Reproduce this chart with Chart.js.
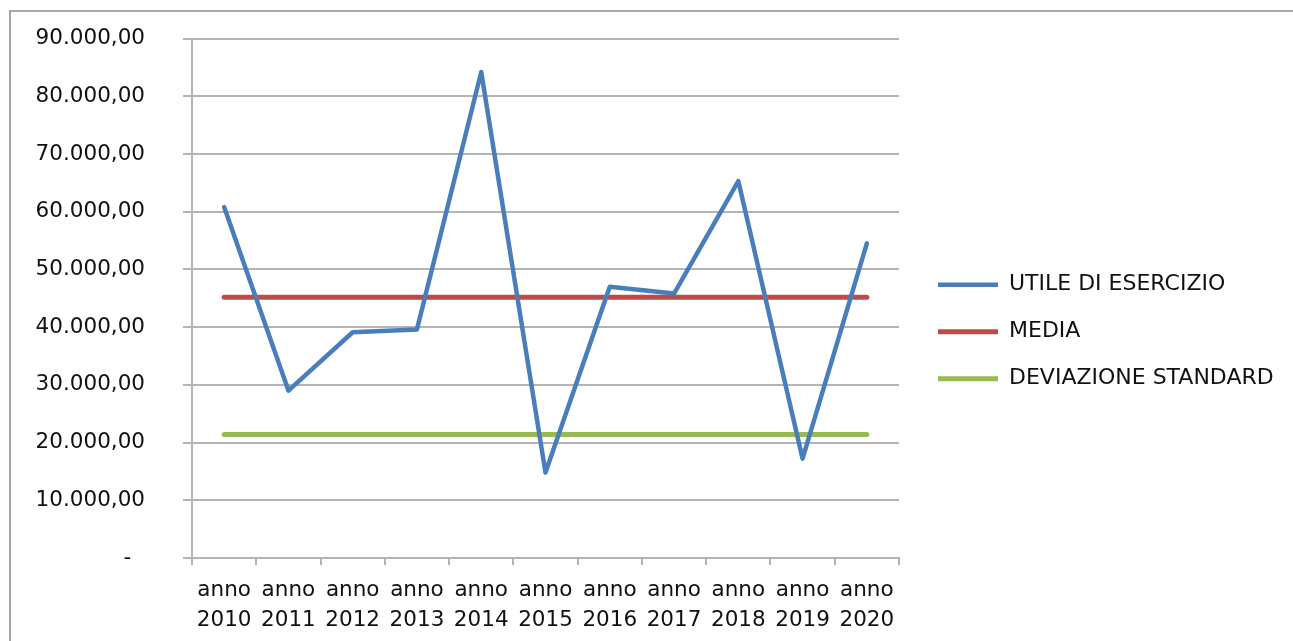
<!DOCTYPE html>
<html lang="it">
<head>
    <meta charset="UTF-8">
    <title>Utile di esercizio 2010-2020</title>
    <script src="https://cdn.jsdelivr.net/npm/chart.js"></script>
    <style>
        html, body {
            margin: 0;
            padding: 0;
            background: #fff;
            overflow: hidden;
        }
        #frame {
            position: absolute;
            left: 9px;
            top: 10px;
            width: 1400px;
            height: 800px;
            border: 2px solid #a8a8a8;
        }
        #chartContainer {
            position: absolute;
            left: 0;
            top: 0;
            width: 1293px;
            height: 641px;
        }
    </style>
</head>
<body>
    <div id="frame"></div>
    <div id="chartContainer">
        <canvas id="utileChart"></canvas>
    </div>

    <script>
        // Data
        const anni = [
            ['anno', '2010'], ['anno', '2011'], ['anno', '2012'], ['anno', '2013'],
            ['anno', '2014'], ['anno', '2015'], ['anno', '2016'], ['anno', '2017'],
            ['anno', '2018'], ['anno', '2019'], ['anno', '2020']
        ];
        const utile = [60800, 29000, 39100, 39600, 84200, 14800, 47000, 45800, 65300, 17200, 54500];
        const media = [45150, 45150, 45150, 45150, 45150, 45150, 45150, 45150, 45150, 45150, 45150];
        const deviazione = [21400, 21400, 21400, 21400, 21400, 21400, 21400, 21400, 21400, 21400, 21400];
        const yTicks = [0, 10000, 20000, 30000, 40000, 50000, 60000, 70000, 80000, 90000];

        // Italian number format: 90.000,00 and "-" for zero
        function formatIt(v) {
            if (v === 0) return '-  ';
            const intPart = Math.round(v).toString().replace(/\B(?=(\d{3})+(?!\d))/g, '.');
            return intPart + ',00';
        }

        const axisFont = { family: 'DejaVu Sans', size: 21.5 };
        const gridColor = '#b4b4b4';
        const textColor = '#111';

        // legend takes the whole right side, then is nudged to where Excel put it
        const legendShift = {
            id: 'legendShift',
            afterInit(chart) {
                const lg = chart.legend;
                const origFit = lg.fit.bind(lg);
                lg.fit = function () {
                    origFit();
                    this.width = 394;
                };
            },
            afterLayout(chart) {
                const lg = chart.legend;
                lg.left += 14;
                lg.right += 14;
                lg.top -= 6.5;
                lg.bottom -= 6.5;
            }
        };

        const ctx = document.getElementById('utileChart').getContext('2d');
        const utileChart = new Chart(ctx, {
            type: 'line',
            data: {
                labels: anni,
                datasets: [
                    {
                        label: 'UTILE DI ESERCIZIO',
                        data: utile,
                        borderColor: '#4a7ebb',
                        backgroundColor: '#4a7ebb',
                        borderWidth: 4.5,
                        pointRadius: 0,
                        borderCapStyle: 'round',
                        borderJoinStyle: 'round',
                        tension: 0
                    },
                    {
                        label: 'MEDIA',
                        data: media,
                        borderColor: '#be4b48',
                        backgroundColor: '#be4b48',
                        borderWidth: 5,
                        pointRadius: 0,
                        borderCapStyle: 'round'
                    },
                    {
                        label: 'DEVIAZIONE STANDARD',
                        data: deviazione,
                        borderColor: '#98b954',
                        backgroundColor: '#98b954',
                        borderWidth: 5,
                        pointRadius: 0,
                        borderCapStyle: 'round'
                    }
                ]
            },
            options: {
                responsive: true,
                maintainAspectRatio: false,
                animation: false,
                layout: {
                    padding: { top: 38.5, right: 0, bottom: 3, left: 0 }
                },
                scales: {
                    x: {
                        offset: true,
                        afterFit(scale) { scale.height -= 8; },
                        grid: {
                            display: true,
                            offset: true,
                            drawOnChartArea: false,
                            drawTicks: true,
                            tickLength: 7,
                            color: gridColor,
                            lineWidth: 2
                        },
                        border: { display: true, color: gridColor, width: 2 },
                        ticks: {
                            color: textColor,
                            font: { family: 'DejaVu Sans', size: 21.5, lineHeight: 1.42 },
                            padding: 10,
                            maxRotation: 0,
                            autoSkip: false
                        }
                    },
                    y: {
                        min: 0,
                        max: 90000,
                        afterFit(scale) {
                            scale.width = 192;
                            scale.paddingTop = 0;
                            scale.paddingBottom = 0;
                        },
                        afterBuildTicks(scale) {
                            scale.ticks = yTicks.map(v => ({ value: v }));
                        },
                        grid: {
                            color: gridColor,
                            lineWidth: 2,
                            drawTicks: true,
                            tickLength: 9
                        },
                        border: { display: true, color: gridColor, width: 2 },
                        ticks: {
                            color: textColor,
                            font: axisFont,
                            padding: 38,
                            callback: value => formatIt(value)
                        }
                    }
                },
                plugins: {
                    legend: {
                        position: 'right',
                        align: 'center',
                        labels: {
                            color: textColor,
                            font: { family: 'DejaVu Sans', size: 22 },
                            usePointStyle: true,
                            pointStyle: 'line',
                            pointStyleWidth: 60,
                            boxHeight: 4,
                            padding: 25
                        }
                    },
                    tooltip: { enabled: false }
                }
            },
            plugins: [legendShift]
        });
    </script>
</body>
</html>
